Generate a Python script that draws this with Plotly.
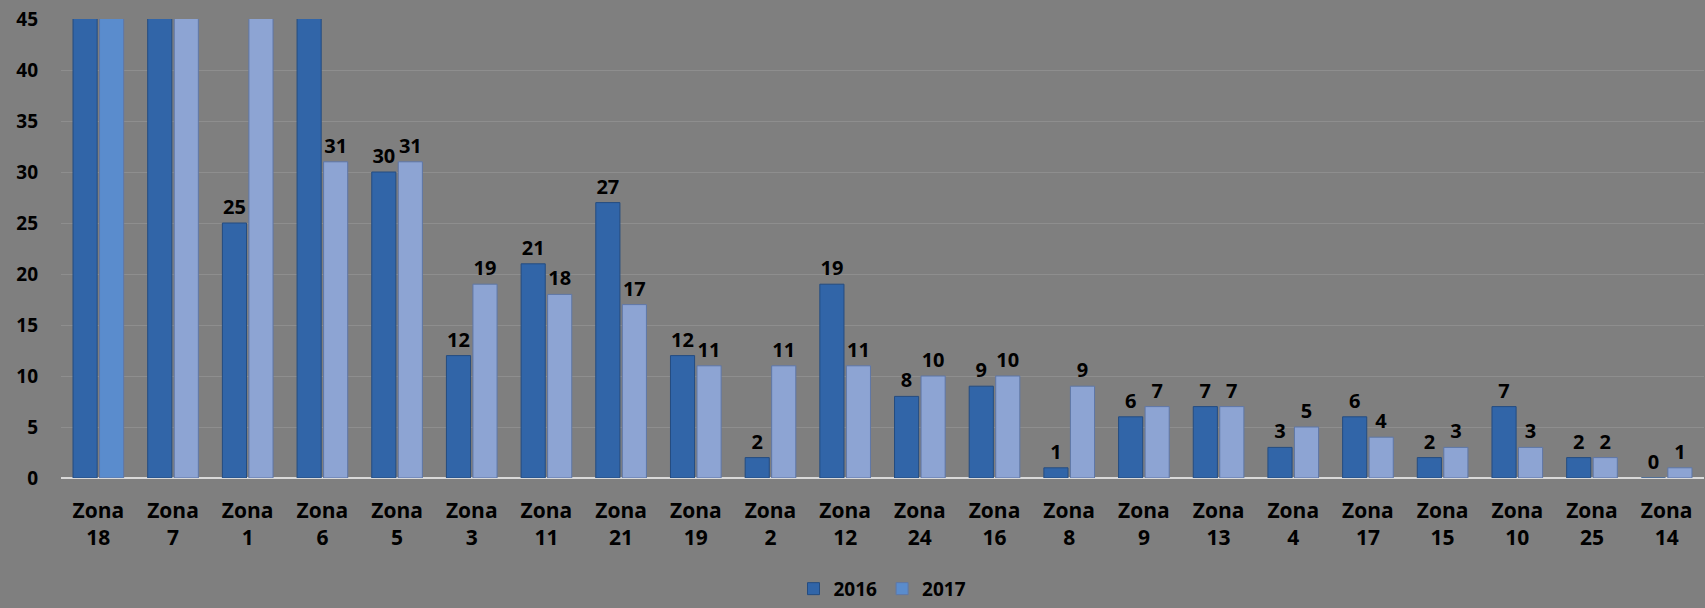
import plotly.graph_objects as go

zonas = ["18", "7", "1", "6", "5", "3", "11", "21", "19", "2", "12",
         "24", "16", "8", "9", "13", "4", "17", "15", "10", "25", "14"]
valores_2016 = [60, 55, 25, 52, 30, 12, 21, 27, 12, 2, 19,
                8, 9, 1, 6, 7, 3, 6, 2, 7, 2, 0]
valores_2017 = [58, 50, 48, 31, 31, 19, 18, 17, 11, 11, 11,
                10, 10, 9, 7, 7, 5, 4, 3, 3, 2, 1]

y_max = 45
categorias = ["Zona<br>" + z for z in zonas]

col_2016 = "#3165A8"
col_2017 = "#8DA4D3"
colores_2017 = [col_2017] * len(zonas)
colores_2017[0] = "#5A8CCD"


def etiquetas(vals):
    return [str(v) if v <= y_max else "" for v in vals]


FAM = "Open Sans"
fuente = dict(family=FAM, size=20, color="black", weight="bold")

fig = go.Figure()
fig.add_trace(go.Bar(
    x=categorias, y=valores_2016, name="2016",
    marker=dict(color=col_2016, line=dict(color="#244C80", width=1)),
    text=etiquetas(valores_2016), textposition="outside",
    textfont=fuente, cliponaxis=True,
))
fig.add_trace(go.Bar(
    x=categorias, y=valores_2017, name="2017",
    marker=dict(color=colores_2017, line=dict(color="#5F77A6", width=1)),
    text=etiquetas(valores_2017), textposition="outside",
    textfont=fuente, cliponaxis=True,
))

fig.update_layout(
    width=1705, height=608,
    paper_bgcolor="#7F7F7F", plot_bgcolor="#7F7F7F",
    margin=dict(l=61, r=1, t=19, b=129),
    barmode="group", bargap=0.29, bargroupgap=0.09,
    font=fuente,
    legend=dict(orientation="h", x=0.5, xanchor="center", y=-0.28, yanchor="bottom",
                font=dict(family=FAM, size=19, color="black", weight="bold"),
                itemwidth=30, traceorder="normal"),
    showlegend=True,
)
fig.update_xaxes(
    showgrid=False, showline=False, ticks="",
    tickfont=dict(family=FAM, size=21, color="black", weight="bold"),
    ticklabelstandoff=18,
)
fig.update_yaxes(
    range=[0, y_max], dtick=5, showgrid=True, gridcolor="#8E8E8E", gridwidth=1,
    zeroline=True, zerolinecolor="#D9D9D9", zerolinewidth=2,
    tickfont=dict(family=FAM, size=19, color="black", weight="bold"),
    ticklabelstandoff=22,
)

fig.write_html("out.html", config={"displayModeBar": False},
               post_script="document.body.style.margin='0';")
